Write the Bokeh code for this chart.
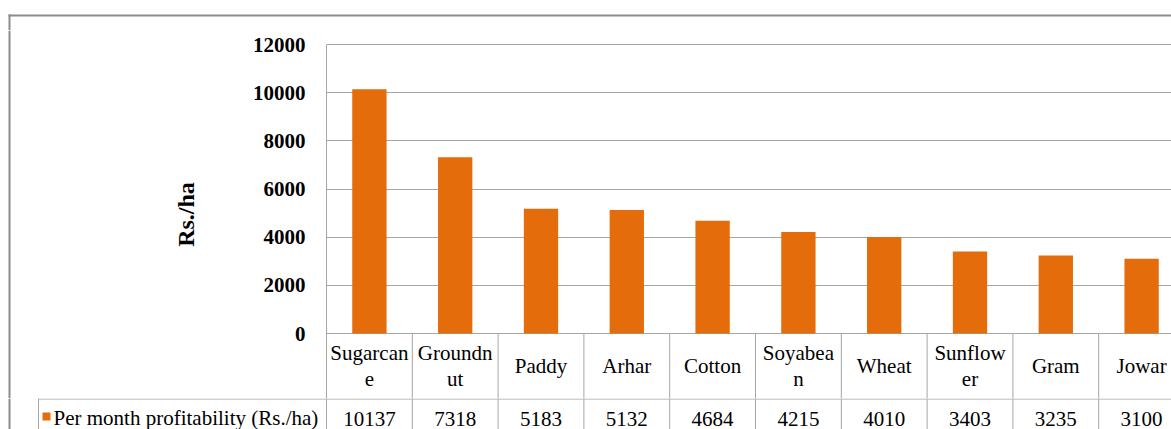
from bokeh.plotting import figure
from bokeh.layouts import column, row
from bokeh.models import Range1d, FixedTicker
from bokeh.core.properties import value
from bokeh.embed import file_html
from bokeh.resources import INLINE

# ---------------- data ----------------
CATEGORIES = ["Sugarcane", "Groundnut", "Paddy", "Arhar", "Cotton",
              "Soyabean", "Wheat", "Sunflower", "Gram", "Jowar"]
CATEGORY_LABELS = ["Sugarcan\ne", "Groundn\nut", "Paddy", "Arhar", "Cotton",
                   "Soyabea\nn", "Wheat", "Sunflow\ner", "Gram", "Jowar"]
PROFIT = [10137, 7318, 5183, 5132, 4684, 4215, 4010, 3403, 3235, 3100]
SERIES_NAME = "Per month profitability (Rs./ha)"
Y_TICKS = [0, 2000, 4000, 6000, 8000, 10000, 12000]
Y_LABEL = "Rs./ha"

# ---------------- layout (picture pixels) ----------------
ORIGIN = 0
PAGE_R = 1171
PAGE_B = 429
BORDER_X = 9          # outer chart border (left)
BORDER_Y = 15         # outer chart border (top)
STRIP_B = 30          # bottom of top strip
SPLIT_X = 100         # left strip / plot figure split
PLOT_L = 326          # first category cell left edge
CW = 85.8             # category cell width
Y_TOP_PX = 44         # pixel of top tick
Y_ZERO_PX = 333       # pixel of zero
ROW_PX = 398          # line between category row and value row
LEG_L = 38            # left edge of legend cell

BAR_COLOR = "#E46C0A"
GRID_COLOR = "#A6A6A6"
BORDER_COLOR = "#8C8C8C"
FONT = "Liberation Serif"


def X(px):
    return -0.5 + (px - PLOT_L) / CW


def blank(width, height, x_range, y_range):
    f = figure(width=width, height=height, x_range=x_range, y_range=y_range,
               toolbar_location=None, output_backend="svg", tools="",
               x_axis_location=None, y_axis_location=None,
               min_border_left=0, min_border_right=0,
               min_border_top=0, min_border_bottom=0,
               outline_line_color=None, background_fill_color="white",
               border_fill_color="white")
    for g in f.grid:
        g.visible = False
    return f


# ---------- top strip (top border) ----------
top_h = STRIP_B - ORIGIN
pTop = blank(PAGE_R - ORIGIN, top_h, Range1d(0, PAGE_R - ORIGIN), Range1d(top_h, 0))
pTop.segment(x0=[BORDER_X - ORIGIN - 1], y0=[BORDER_Y - ORIGIN], x1=[PAGE_R - ORIGIN], y1=[BORDER_Y - ORIGIN],
             line_color=BORDER_COLOR, line_width=2)
pTop.segment(x0=[BORDER_X - ORIGIN], y0=[BORDER_Y - ORIGIN - 1], x1=[BORDER_X - ORIGIN], y1=[top_h],
             line_color=BORDER_COLOR, line_width=2)

# ---------- left strip (left border) ----------
left_w = SPLIT_X - ORIGIN
mid_h = ROW_PX - STRIP_B
pLeft = blank(left_w, mid_h, Range1d(0, left_w), Range1d(mid_h, 0))
pLeft.segment(x0=[BORDER_X - ORIGIN], y0=[0], x1=[BORDER_X - ORIGIN], y1=[mid_h],
              line_color=BORDER_COLOR, line_width=2)

# ---------- main plot ----------
ymax = Y_TICKS[-1]
ppu = (Y_ZERO_PX - Y_TOP_PX) / ymax
y_end = ymax + (Y_TOP_PX - STRIP_B) / ppu
y_start = -(ROW_PX - Y_ZERO_PX) / ppu

p = figure(width=PAGE_R - SPLIT_X, height=mid_h,
           x_range=Range1d(X(PLOT_L), X(PAGE_R)),
           y_range=Range1d(y_start, y_end),
           toolbar_location=None, output_backend="svg", tools="",
           x_axis_location=None,
           min_border_left=PLOT_L - SPLIT_X, min_border_right=0,
           min_border_top=0, min_border_bottom=0,
           outline_line_color=None, background_fill_color="white",
           border_fill_color="white")

ticker = FixedTicker(ticks=Y_TICKS)
ax = p.yaxis[0]
ax.ticker = ticker
ax.bounds = (y_start, ymax)
ax.axis_line_color = GRID_COLOR
ax.axis_line_width = 1
ax.major_tick_line_color = None
ax.minor_tick_line_color = None
ax.major_tick_out = 0
ax.major_tick_in = 0
ax.minor_tick_out = 0
ax.minor_tick_in = 0
ax.major_label_standoff = 21
ax.major_label_text_font = FONT
ax.major_label_text_font_style = "bold"
ax.major_label_text_font_size = "21px"
ax.major_label_text_color = "black"
ax.axis_label = Y_LABEL
ax.axis_label_text_font = FONT
ax.axis_label_text_font_style = "bold"
ax.axis_label_text_font_size = "24px"
ax.axis_label_text_color = "black"
ax.axis_label_standoff = 51

for g in p.xgrid:
    g.visible = False
p.ygrid.ticker = ticker
p.ygrid.grid_line_color = GRID_COLOR
p.ygrid.grid_line_width = 1

idx = list(range(len(CATEGORIES)))
inner = idx[:-1]
p.vbar(x=idx, top=PROFIT, width=0.4, fill_color=BAR_COLOR, line_color=None)

# category cell borders
edges = [i + 0.5 for i in inner]
p.segment(x0=edges, y0=[0] * len(edges), x1=edges, y1=[y_start] * len(edges),
          line_color=GRID_COLOR, line_width=1)
# category labels
cat_mid = y_start / 2
p.text(x=idx, y=[cat_mid] * len(idx), text=CATEGORY_LABELS,
       text_align="center", text_baseline="middle",
       text_font=value(FONT), text_font_size="21px", text_line_height=1.05,
       text_color="black")

# ---------- value row ----------
bot_h = PAGE_B - ROW_PX
pBot = blank(PAGE_R - ORIGIN, bot_h, Range1d(X(ORIGIN), X(PAGE_R)), Range1d(bot_h, 0))
pBot.segment(x0=[X(BORDER_X)], y0=[0], x1=[X(BORDER_X)], y1=[bot_h],
             line_color=BORDER_COLOR, line_width=2)
pBot.segment(x0=[X(LEG_L)], y0=[0.5], x1=[X(PAGE_R)], y1=[0.5],
             line_color=GRID_COLOR, line_width=1)
vlines = [X(LEG_L), -0.5] + edges
pBot.segment(x0=vlines, y0=[0] * len(vlines), x1=vlines, y1=[bot_h] * len(vlines),
             line_color=GRID_COLOR, line_width=1)
pBot.rect(x=[X(LEG_L + 8)], y=[18], width=8, height=8, width_units="screen",
          height_units="screen", fill_color=BAR_COLOR, line_color=None)
pBot.text(x=[X(LEG_L + 15)], y=[19], text=[SERIES_NAME], text_align="left",
          text_baseline="middle", text_font=value(FONT), text_font_size="21px",
          text_color="black")
pBot.text(x=idx, y=[20] * len(idx), text=[str(v) for v in PROFIT],
          text_align="center", text_baseline="middle", text_font=value(FONT),
          text_font_size="21px", text_color="black")

layout = column(pTop, row(pLeft, p, spacing=0), pBot, spacing=0)

open("out.html", "w").write(file_html(layout, INLINE))
